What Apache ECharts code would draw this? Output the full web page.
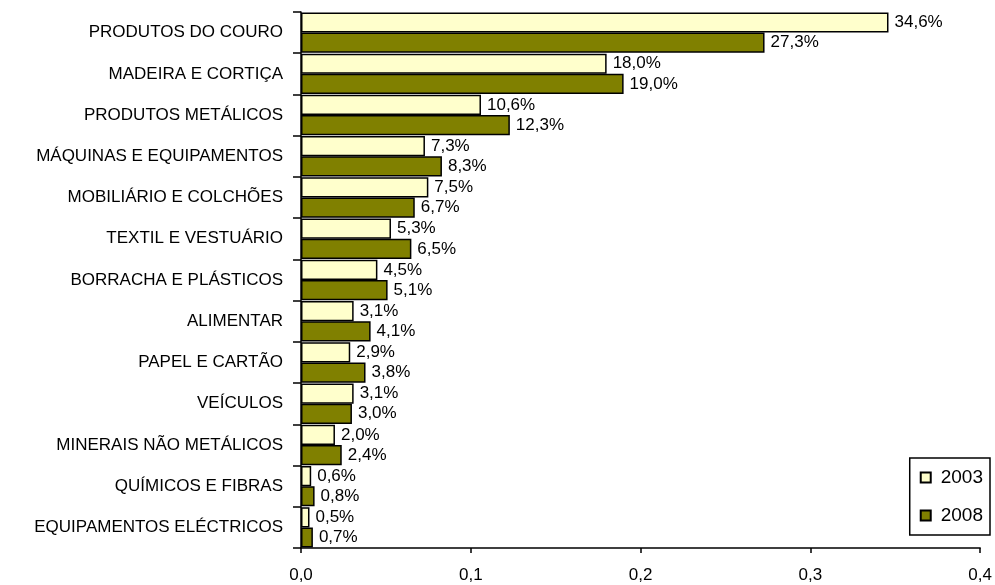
<!DOCTYPE html>
<html><head><meta charset="utf-8">
<script src="https://cdn.jsdelivr.net/npm/echarts@6/dist/echarts.min.js"></script>
<style>html,body{margin:0;padding:0;background:#fff}#c{width:995px;height:585px}</style>
</head><body><div id="c"></div>
<script>
const categories = ['PRODUTOS DO COURO','MADEIRA E CORTIÇA','PRODUTOS METÁLICOS','MÁQUINAS E EQUIPAMENTOS','MOBILIÁRIO E COLCHÕES','TEXTIL E VESTUÁRIO','BORRACHA E PLÁSTICOS','ALIMENTAR','PAPEL E CARTÃO','VEÍCULOS','MINERAIS NÃO METÁLICOS','QUÍMICOS E FIBRAS','EQUIPAMENTOS ELÉCTRICOS'];
const values2003 = [0.346,0.180,0.106,0.073,0.075,0.053,0.045,0.031,0.029,0.031,0.020,0.006,0.005];
const values2008 = [0.273,0.190,0.123,0.083,0.067,0.065,0.051,0.041,0.038,0.030,0.024,0.008,0.007];
const seriesNames = ['2003','2008'];
const xTicks = [0,0.1,0.2,0.3,0.4];

const font = 'Liberation Sans, Arial, sans-serif';
const chart = echarts.init(document.getElementById('c'));
const lbl = {
  show:true, position:'right', distance:6, color:'#000', fontFamily:font, fontSize:17,
  formatter: p => (p.value*100).toFixed(1).replace('.',',') + '%'
};
chart.setOption({
  animation:false,
  textStyle:{fontFamily:font},
  grid:{left:301,right:14,top:12,bottom:37,containLabel:false},
  legend:{
    orient:'vertical', right:5, top:458, data:seriesNames, icon:'rect',
    itemWidth:10, itemHeight:10, itemGap:19,
    borderColor:'#000', borderWidth:1.5, padding:[10,7,10,10],
    textStyle:{fontFamily:font, fontSize:19, color:'#000', padding:[0,0,0,5]}
  },
  xAxis:{
    type:'value', min:xTicks[0], max:xTicks[xTicks.length-1], interval:0.1,
    splitLine:{show:false},
    axisLine:{show:true,lineStyle:{color:'#000',width:1.5}},
    axisTick:{show:true,length:5,lineStyle:{color:'#000',width:1.5}},
    axisLabel:{color:'#000',fontSize:17,fontFamily:font,margin:19,
      formatter:v=>v.toFixed(1).replace('.',',')}
  },
  yAxis:{
    type:'category', data:categories, inverse:true,
    axisLine:{show:true,lineStyle:{color:'#000',width:1.5}},
    axisTick:{show:true,length:8,lineStyle:{color:'#000',width:1.5}},
    axisLabel:{color:'#000',fontSize:17,fontFamily:font,margin:18}
  },
  series:[
    {name:seriesNames[0], type:'bar', data:values2003, barGap:'0%', barCategoryGap:'2%',
     itemStyle:{color:'#FFFFCC',borderColor:'#000',borderWidth:1.5}, label:lbl},
    {name:seriesNames[1], type:'bar', data:values2008, barGap:'0%', barCategoryGap:'2%',
     itemStyle:{color:'#808000',borderColor:'#000',borderWidth:1.5}, label:lbl}
  ]
});
</script></body></html>
